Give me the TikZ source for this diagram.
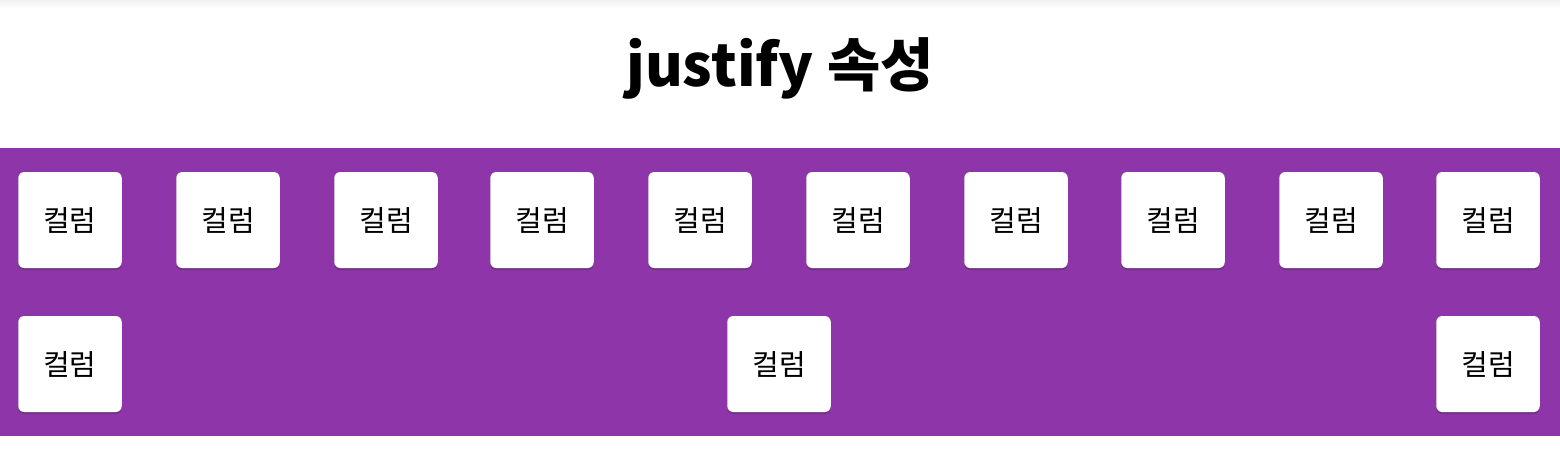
\documentclass[tikz,border=0pt]{standalone}
\usepackage{fontspec}
\setmainfont{Noto Sans CJK KR}
\usetikzlibrary{shadows}
\definecolor{bandpurple}{RGB}{142,53,169}
\tikzset{
  colbox/.style={fill=white, rounded corners=3pt, minimum width=51.75pt, minimum height=48pt,
    inner sep=0pt, font=\fontsize{14.5}{17}\selectfont,
    drop shadow={shadow xshift=0pt, shadow yshift=-1pt, opacity=0.35, fill=black!80}},
}
\begin{document}
\begin{tikzpicture}[x=0.5pt, y=-0.5pt]
	\useasboundingbox (0,0) rectangle (1560,462);
	\fill[white] (0,0) rectangle (1560,462);
	% faint bar shadow at the top
	\shade[top color=black!6, bottom color=white] (0,0) rectangle (1560,8);
	\node[anchor=base, font=\fontsize{29}{34}\selectfont\bfseries] (title) at (780,86) {justify 속성};
	% purple container
	\fill[bandpurple] (0,148) rectangle (1560,436);
	% first row
	\foreach \x [count=\i] in {70,228,386,542,700,858,1016,1173,1331,1488}
		\node[colbox] (a\i) at (\x,220) {컬럼};
	% second row
	\node[colbox] (b1) at (70,364) {컬럼};
	\node[colbox] (b2) at (779,364) {컬럼};
	\node[colbox] (b3) at (1488,364) {컬럼};
\end{tikzpicture}
\end{document}
